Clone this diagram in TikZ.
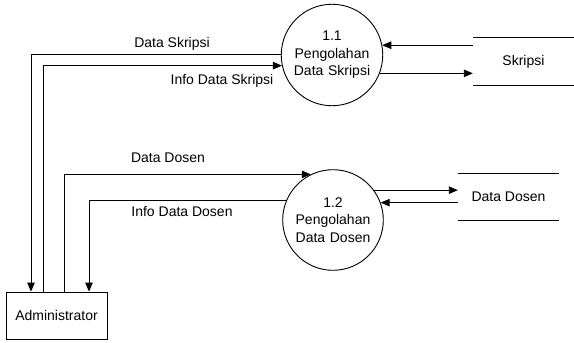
\documentclass[tikz,border=0pt]{standalone}
\usepackage{fontspec}
\setmainfont{Liberation Sans}
\usepackage{tikz}
\usetikzlibrary{shapes.geometric, arrows.meta}
\tikzstyle{process} = [circle, minimum size=96pt, inner sep=0pt, text width=90pt, align=center, draw=black, line width=0.9pt, font=\fontsize{14}{17.5}\selectfont]
\tikzstyle{entity} = [rectangle, minimum width=101pt, minimum height=47pt, draw=black, line width=0.9pt, font=\fontsize{14}{17}\selectfont]
\tikzstyle{store} = [rectangle, minimum width=101pt, minimum height=47pt, font=\fontsize{14}{17}\selectfont]
\tikzstyle{flow} = [font=\fontsize{14}{17}\selectfont]
\tikzstyle{arrow} = [line width=0.9pt, ->, >={Triangle[length=9pt,width=7.5pt]}]

\begin{document}
\begin{tikzpicture}[x=1pt, y=-1pt]
\useasboundingbox (0,0) rectangle (574,343);
\node (p11) [process] at (332,55) {1.1\\Pengolahan\\Data Skripsi};
\node (p12) [process] at (333,220) {1.2\\Pengolahan\\Data Dosen};
\node (admin) [entity] at (56.5,315.5) {Administrator};
\node (skripsi) [store] at (523.5,61.5) {Skripsi};
\node (dosen) [store] at (508.5,197) {Data Dosen};
% data stores
\draw [line width=0.9pt] (skripsi.north west) -- (skripsi.north east);
\draw [line width=0.9pt] (skripsi.south west) -- (skripsi.south east);
\draw [line width=0.9pt] (dosen.north west) -- (dosen.north east);
\draw [line width=0.9pt] (dosen.south west) -- (dosen.south east);
% flow labels
\node (l1) [flow] at (172,44) {Data Skripsi};
\node (l2) [flow] at (222,81) {Info Data Skripsi};
\node (l3) [flow] at (168,158) {Data Dosen};
\node (l4) [flow] at (182,212) {Info Data Dosen};
% flows
\draw [arrow] (p11.179) -| ([xshift=-25.5pt]admin.north);
\draw [arrow] ([xshift=-13.5pt]admin.north) |- (p11.192);
\draw [arrow] ([xshift=7.5pt]admin.north) |- (p12.116);
\draw [arrow] (p12.157) -| ([xshift=32.5pt]admin.north);
\draw [arrow] (skripsi.west |- p11.11) -- (p11.11);
\draw [arrow] (p11.-21) -- (skripsi.west |- p11.-21);
\draw [arrow] (p12.36) -- (dosen.west |- p12.36);
\draw [arrow] (dosen.west |- p12.20) -- (p12.20);
\end{tikzpicture}
\end{document}
